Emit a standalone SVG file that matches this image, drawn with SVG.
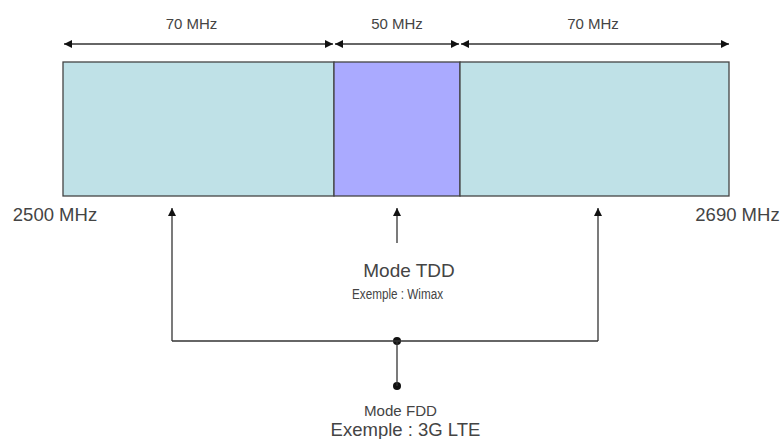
<svg xmlns="http://www.w3.org/2000/svg" width="783" height="439" viewBox="0 0 783 439">
<style>
text{font-family:"Liberation Sans",Arial,sans-serif;fill:#444;}
.ln{stroke:#333;stroke-width:1.3;fill:none;}
.bx{stroke:#444;stroke-width:1.3;}
</style>
<defs>
<marker id="ah" viewBox="0 0 10 10" refX="10" refY="5" markerWidth="8" markerHeight="8" markerUnits="userSpaceOnUse" orient="auto-start-reverse"><path d="M0,0L10,5L0,10z" fill="#111"/></marker>
</defs>
<rect width="783" height="439" fill="#fff"/>
<g id="band-left"><rect class="bx" x="63" y="62" width="271" height="134" fill="#BFE1E7"/></g>
<g id="band-mid"><rect class="bx" x="334" y="62" width="126" height="134" fill="#AAAAFF"/></g>
<g id="band-right"><rect class="bx" x="460" y="62" width="269" height="134" fill="#BFE1E7"/></g>
<g id="labels">
<text x="191.5" y="29" font-size="15" text-anchor="middle">70 MHz</text>
<text x="397" y="29" font-size="15" text-anchor="middle">50 MHz</text>
<text x="593" y="29" font-size="15" text-anchor="middle">70 MHz</text>
<text x="55" y="221" font-size="18.5" text-anchor="middle">2500 MHz</text>
<text x="737.5" y="221" font-size="18.5" text-anchor="middle">2690 MHz</text>
</g>
<g id="tdd">
<text x="409" y="277" font-size="19" text-anchor="middle">Mode TDD</text>
<text x="352" y="299" font-size="15.5" textLength="91" lengthAdjust="spacingAndGlyphs">Exemple : Wimax</text>
</g>
<g id="fdd">
<circle cx="397" cy="341" r="4" fill="#111"/>
<circle cx="397" cy="386" r="4" fill="#111"/>
<text x="364" y="416" font-size="14" textLength="73" lengthAdjust="spacingAndGlyphs">Mode FDD</text>
<text x="405.5" y="436" font-size="18.5" text-anchor="middle">Exemple : 3G LTE</text>
</g>
<g id="connectors">
<line class="ln" x1="64" y1="44" x2="333" y2="44" marker-start="url(#ah)" marker-end="url(#ah)"/>
<line class="ln" x1="335" y1="44" x2="459" y2="44" marker-start="url(#ah)" marker-end="url(#ah)"/>
<line class="ln" x1="461" y1="44" x2="729" y2="44" marker-start="url(#ah)" marker-end="url(#ah)"/>
<polyline class="ln" points="172,341 172,208" marker-end="url(#ah)"/>
<polyline class="ln" points="598,341 598,208" marker-end="url(#ah)"/>
<line class="ln" x1="397" y1="243" x2="397" y2="208" marker-end="url(#ah)"/>
<line class="ln" x1="172" y1="341" x2="598" y2="341"/>
<line class="ln" x1="397" y1="341" x2="397" y2="386"/>
</g>
</svg>
